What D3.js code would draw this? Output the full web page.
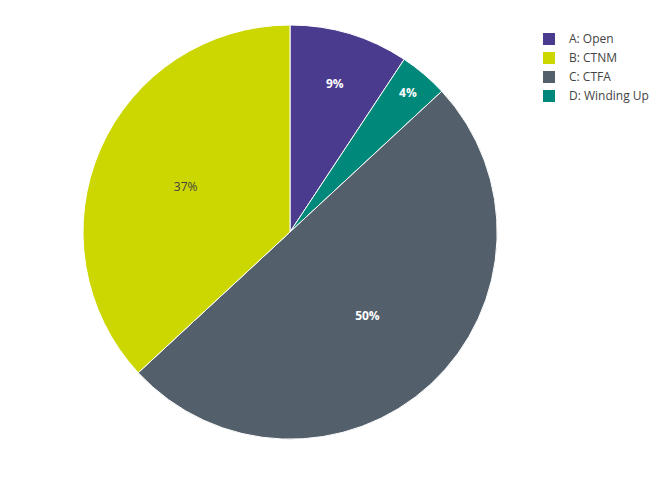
<!DOCTYPE html>
<html><head><meta charset="utf-8">
<script src="https://cdn.jsdelivr.net/npm/d3@7"></script>
<style>body{margin:0;background:#fff}text{font-family:"Open Sans",sans-serif}</style>
</head><body><svg width="672" height="480"></svg>
<script>
// slice order as drawn clockwise from 12 o'clock
const sliceNames = ['A: Open', 'D: Winding Up', 'C: CTFA', 'B: CTNM']
const sliceValues = [9.3, 3.8, 50.0, 36.9]
const legendNames = ['A: Open', 'B: CTNM', 'C: CTFA', 'D: Winding Up']
const colors = {
  'A: Open': '#4b3b8e',
  'B: CTNM': '#ccd600',
  'C: CTFA': '#535f6b',
  'D: Winding Up': '#00897b'
}

const cx = 290, cy = 232, r = 207
const svg = d3.select('svg')
const total = d3.sum(sliceValues)
const data = sliceNames.map((n, i) => ({name: n, value: sliceValues[i]}))

const pie = d3.pie().sort(null).value(d => d.value)
const arc = d3.arc().innerRadius(0).outerRadius(r)
const g = svg.append('g').attr('transform', `translate(${cx},${cy})`)

const arcs = pie(data)
g.selectAll('path')
  .data(arcs)
  .enter()
  .append('path')
  .attr('d', arc)
  .attr('fill', d => colors[d.data.name])
  .attr('stroke', '#fff')
  .attr('stroke-width', 1)

// labels: small slices near rim, large ones at mid radius
g.selectAll('text.lbl')
  .data(arcs)
  .enter()
  .append('text')
  .attr('class', 'lbl')
  .attr('transform', d => {
    const a = (d.startAngle + d.endAngle) / 2
    const k = d.data.value < 5 ? 0.88 : d.data.value < 15 ? 0.75 : 0.55
    return `translate(${Math.sin(a) * r * k},${-Math.cos(a) * r * k})`
  })
  .attr('text-anchor', 'middle')
  .attr('dy', '0.35em')
  .style('font-size', '12px')
  .style('font-weight', d => d.data.name === 'B: CTNM' ? 'normal' : 'bold')
  .attr('fill', d => d.data.name === 'B: CTNM' ? '#444' : '#fff')
  .text(d => Math.round(d.data.value / total * 100) + '%')

const leg = svg.append('g').attr('transform', 'translate(543,39)')
const items = leg.selectAll('g')
  .data(legendNames)
  .enter()
  .append('g')
  .attr('transform', (d, i) => `translate(0,${i * 19})`)
items.append('rect')
  .attr('x', 0).attr('y', -6).attr('width', 12).attr('height', 12)
  .attr('fill', d => colors[d])
items.append('text')
  .attr('x', 26).attr('dy', '0.35em')
  .style('font-size', '12px')
  .attr('fill', '#444')
  .text(d => d)
</script></body></html>
